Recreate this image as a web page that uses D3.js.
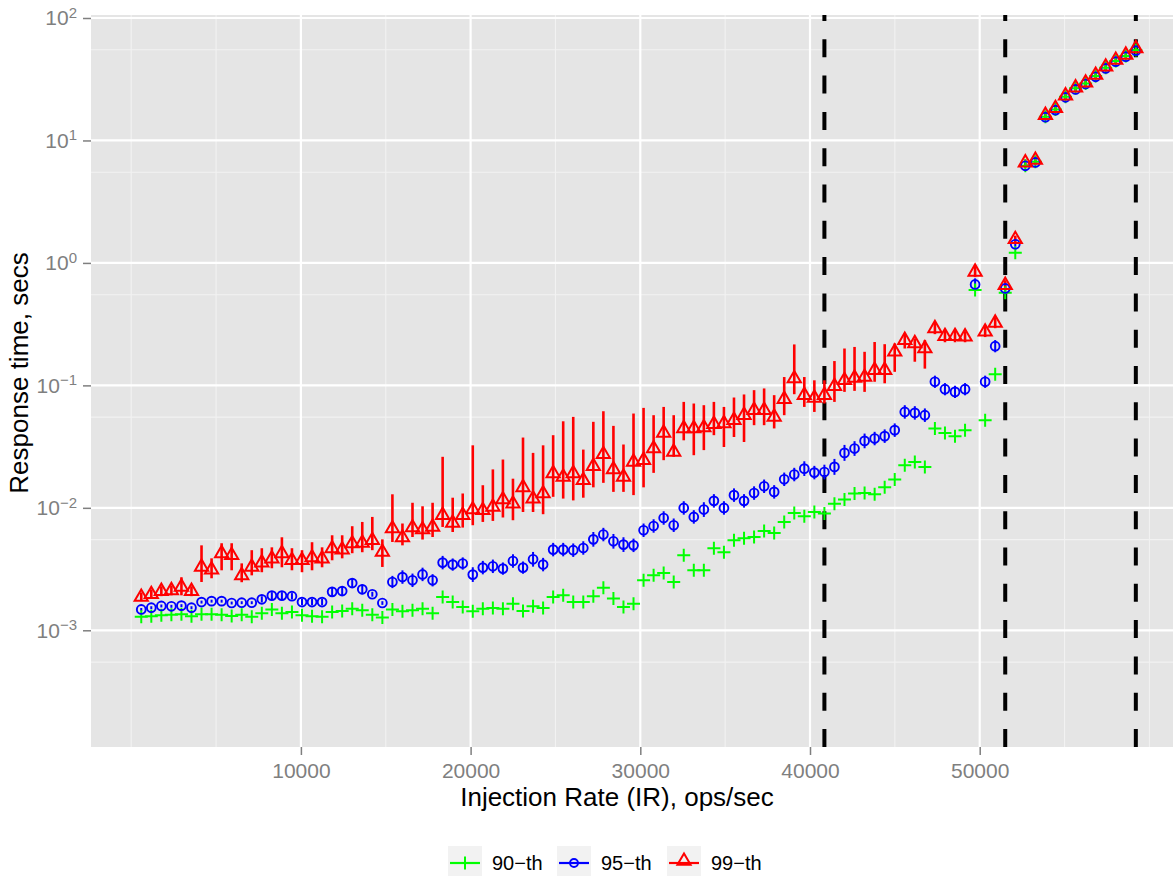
<!DOCTYPE html>
<html>
<head>
<meta charset="utf-8">
<script src="https://cdn.jsdelivr.net/npm/d3@7"></script>
<style>
  body { margin: 0; background: #fff; }
  svg { display: block; font-family: "Liberation Sans", Arial, sans-serif; }
</style>
</head>
<body>
<div id="chart-area"></div>
<script>
// injection rates (ops/sec)
const rates = [592, 1184, 1776, 2368, 2960, 3552, 4144, 4736, 5328, 5920,
  6512, 7104, 7696, 8288, 8880, 9472, 10064, 10656, 11248, 11840,
  12432, 13024, 13616, 14208, 14800, 15392, 15984, 16576, 17168, 17760,
  18352, 18944, 19536, 20128, 20720, 21312, 21904, 22496, 23088, 23680,
  24272, 24864, 25456, 26048, 26640, 27232, 27824, 28416, 29008, 29600,
  30192, 30784, 31376, 31968, 32560, 33152, 33744, 34336, 34928, 35520,
  36112, 36704, 37296, 37888, 38480, 39072, 39664, 40256, 40848, 41440,
  42032, 42624, 43216, 43808, 44400, 44992, 45584, 46176, 46768, 47360,
  47952, 48544, 49136, 49728, 50320, 50912, 51504, 52096, 52688, 53280,
  53872, 54464, 55056, 55648, 56240, 56832, 57424, 58016, 58608, 59200];

// response time percentiles (secs)
const p90 = [0.00129, 0.00130, 0.00133, 0.00134, 0.00135, 0.00130, 0.00135, 0.00135, 0.00134, 0.00131,
  0.00134, 0.00129, 0.00138, 0.00148, 0.00138, 0.00141, 0.00133, 0.00130, 0.00129, 0.00141,
  0.00144, 0.00150, 0.00146, 0.00134, 0.00127, 0.00148, 0.00143, 0.00146, 0.00150, 0.00138,
  0.00187, 0.00170, 0.00155, 0.00143, 0.00150, 0.00152, 0.00150, 0.00165, 0.00144, 0.00157,
  0.00152, 0.00187, 0.00193, 0.00170, 0.00170, 0.00190, 0.00223, 0.00182, 0.00155, 0.00165,
  0.00256, 0.00281, 0.00294, 0.00248, 0.00410, 0.00309, 0.00309, 0.00468, 0.00434, 0.00543,
  0.00565, 0.00578, 0.00647, 0.00624, 0.00767, 0.00908, 0.00853, 0.00925, 0.00897, 0.0108,
  0.0117, 0.0131, 0.0132, 0.0129, 0.0147, 0.0170, 0.0223, 0.0237, 0.0216, 0.0445,
  0.0409, 0.0385, 0.0431, 0.600, 0.0520, 0.123, 0.570, 1.21, 6.21, 6.70,
  15.6, 17.9, 22.8, 26.7, 29.2, 33.6, 39.3, 44.6, 48.9, 54.8];

const p95 = [0.00148, 0.00153, 0.00158, 0.00157, 0.00159, 0.00153, 0.00170, 0.00173, 0.00173, 0.00167,
  0.00168, 0.00168, 0.00179, 0.00192, 0.00192, 0.00190, 0.00170, 0.00170, 0.00170, 0.00206,
  0.00209, 0.00243, 0.00216, 0.00197, 0.00167, 0.00248, 0.00272, 0.00256, 0.00286, 0.00256,
  0.00357, 0.00344, 0.00351, 0.00285, 0.00325, 0.00333, 0.00319, 0.00368, 0.00325, 0.00380,
  0.00344, 0.00456, 0.00456, 0.00451, 0.00470, 0.00553, 0.00605, 0.00533, 0.00501, 0.00494,
  0.00656, 0.00711, 0.00826, 0.00721, 0.00998, 0.00843, 0.00968, 0.0114, 0.00998, 0.0127,
  0.0114, 0.0132, 0.0150, 0.0135, 0.0171, 0.0187, 0.0209, 0.0194, 0.0196, 0.0216,
  0.0281, 0.0305, 0.0352, 0.0368, 0.0385, 0.0431, 0.0607, 0.0596, 0.0571, 0.107,
  0.0931, 0.0885, 0.0931, 0.667, 0.107, 0.209, 0.619, 1.42, 6.21, 6.62,
  15.5, 17.7, 22.5, 26.1, 28.9, 33.1, 38.8, 44.0, 48.3, 54.1];

// 95-th spread (half width, in decades)
const p95spread = [0.012, 0.012, 0.012, 0.012, 0.012, 0.012, 0.012, 0.012, 0.012, 0.012,
  0.012, 0.012, 0.025, 0.028, 0.028, 0.025, 0.025, 0.025, 0.025, 0.04,
  0.04, 0.04, 0.04, 0.02, 0.015, 0.05, 0.055, 0.055, 0.055, 0.05,
  0.055, 0.05, 0.05, 0.06, 0.055, 0.055, 0.05, 0.055, 0.05, 0.06,
  0.055, 0.055, 0.055, 0.055, 0.055, 0.06, 0.055, 0.06, 0.06, 0.055,
  0.055, 0.055, 0.055, 0.055, 0.055, 0.055, 0.06, 0.055, 0.055, 0.055,
  0.055, 0.055, 0.055, 0.055, 0.055, 0.055, 0.06, 0.055, 0.06, 0.065,
  0.065, 0.06, 0.06, 0.055, 0.055, 0.055, 0.055, 0.055, 0.055, 0.05,
  0.05, 0.05, 0.05, 0.05, 0.05, 0.05, 0.05, 0.02, 0.02, 0.02,
  0.02, 0.02, 0.02, 0.02, 0.02, 0.02, 0.02, 0.02, 0.02, 0.02];

const p99 = [0.00187, 0.00197, 0.00209, 0.00212, 0.00226, 0.00209, 0.00329, 0.00313, 0.00424, 0.00410,
  0.00281, 0.00329, 0.00357, 0.00385, 0.00424, 0.00373, 0.00373, 0.00393, 0.00385, 0.00465,
  0.00456, 0.00511, 0.00517, 0.00543, 0.00436, 0.00678, 0.00572, 0.00690, 0.00665, 0.00698,
  0.00871, 0.00753, 0.00871, 0.00968, 0.00955, 0.01017, 0.0117, 0.0108, 0.0147, 0.0119,
  0.0131, 0.0191, 0.0179, 0.0191, 0.0168, 0.0219, 0.0274, 0.0206, 0.0179, 0.0237,
  0.0245, 0.0305, 0.0409, 0.0286, 0.0445, 0.0445, 0.0453, 0.0482, 0.0489, 0.0520,
  0.0571, 0.0627, 0.0627, 0.0553, 0.0771, 0.1138, 0.0832, 0.0791, 0.0832, 0.0985,
  0.110, 0.115, 0.117, 0.133, 0.133, 0.188, 0.234, 0.220, 0.200, 0.292,
  0.252, 0.252, 0.250, 0.845, 0.274, 0.324, 0.659, 1.56, 6.58, 6.92,
  16.1, 18.3, 23.2, 27.0, 29.6, 34.2, 40.0, 45.4, 49.9, 56.5];

const p99lo = [0.00173, 0.00182, 0.00190, 0.00193, 0.00193, 0.00190, 0.00248, 0.00266, 0.00309, 0.00309,
  0.00247, 0.00281, 0.00298, 0.00321, 0.00327, 0.00309, 0.00298, 0.00309, 0.00327, 0.00373,
  0.00387, 0.00426, 0.00434, 0.00451, 0.00329, 0.00526, 0.00494, 0.00578, 0.00551, 0.00578,
  0.00698, 0.00635, 0.00690, 0.00721, 0.00767, 0.00782, 0.00834, 0.00792, 0.00925, 0.00925,
  0.00887, 0.0123, 0.0119, 0.0115, 0.0121, 0.0147, 0.0160, 0.0135, 0.0135, 0.0127,
  0.0147, 0.0193, 0.0245, 0.0261, 0.0356, 0.0269, 0.0296, 0.0392, 0.0314, 0.0379,
  0.0345, 0.0473, 0.0473, 0.0445, 0.0571, 0.0847, 0.0667, 0.0607, 0.0711, 0.0733,
  0.0885, 0.0902, 0.0885, 0.107, 0.104, 0.129, 0.200, 0.156, 0.137, 0.262,
  0.225, 0.225, 0.225, 0.766, 0.248, 0.293, 0.600, 1.45, 6.10, 6.45,
  15.0, 17.0, 21.6, 25.1, 27.5, 31.8, 37.2, 42.2, 46.4, 52.5];

const p99hi = [0.00204, 0.00216, 0.00229, 0.00233, 0.00271, 0.00229, 0.00494, 0.00387, 0.00514, 0.00514,
  0.00352, 0.00451, 0.00468, 0.00476, 0.00575, 0.00468, 0.00451, 0.00524, 0.00476, 0.00597,
  0.00597, 0.00708, 0.00767, 0.00843, 0.00553, 0.0129, 0.00745, 0.0110, 0.0103, 0.0110,
  0.0261, 0.0121, 0.0131, 0.0324, 0.0153, 0.0206, 0.0248, 0.0173, 0.0375, 0.0281,
  0.0324, 0.0392, 0.0509, 0.0553, 0.0299, 0.0504, 0.0615, 0.0467, 0.0329, 0.0589,
  0.0655, 0.0571, 0.0667, 0.0571, 0.0733, 0.0711, 0.0689, 0.0733, 0.0667, 0.0796,
  0.0843, 0.0914, 0.0944, 0.0832, 0.117, 0.216, 0.117, 0.110, 0.110, 0.158,
  0.200, 0.206, 0.188, 0.226, 0.217, 0.220, 0.265, 0.242, 0.234, 0.328,
  0.282, 0.282, 0.277, 0.942, 0.305, 0.361, 0.723, 1.67, 7.0, 7.4,
  17.2, 19.6, 24.8, 28.9, 31.7, 36.6, 42.8, 48.6, 53.4, 60.5];

const xTicks = [10000, 20000, 30000, 40000, 50000];
const xMinor = [0, 5000, 15000, 25000, 35000, 45000, 55000, 60000];
const yTicks = [1e-3, 1e-2, 1e-1, 1, 10, 100];
const yMinor = [5.5e-4, 5.5e-3, 5.5e-2, 0.55, 5.5, 55];
const vlines = [40848, 51504, 59200];
const seriesNames = ["90\u2212th", "95\u2212th", "99\u2212th"];
const seriesColors = ["#00FF00", "#0000FF", "#FF0000"];

const width = 1175, height = 876;
const panel = {left: 91, right: 1173, top: 15, bottom: 747};

let svg = d3.select("#chart-area")
  .append("svg")
  .attr("width", width)
  .attr("height", height);

//x scale
let x = d3.scaleLinear()
  .domain([-2369, 61390])
  .range([panel.left, panel.right]);

//y scale (log)
let y = d3.scaleLog()
  .domain([Math.pow(10, -3.953), Math.pow(10, 2.0245)])
  .range([panel.bottom, panel.top]);

svg.append("rect")
  .attr("x", panel.left).attr("y", panel.top)
  .attr("width", panel.right - panel.left)
  .attr("height", panel.bottom - panel.top)
  .attr("fill", "#E5E5E5");

let grid = svg.append("g");
grid.selectAll(".ymin").data(yMinor).enter().append("line")
  .attr("x1", panel.left).attr("x2", panel.right)
  .attr("y1", d => y(d)).attr("y2", d => y(d))
  .attr("stroke", "#F2F2F2").attr("stroke-width", 1.1);
grid.selectAll(".xmin").data(xMinor).enter().append("line")
  .attr("x1", d => x(d)).attr("x2", d => x(d))
  .attr("y1", panel.top).attr("y2", panel.bottom)
  .attr("stroke", "#F2F2F2").attr("stroke-width", 1.1);
grid.selectAll(".ymaj").data(yTicks).enter().append("line")
  .attr("x1", panel.left).attr("x2", panel.right)
  .attr("y1", d => y(d)).attr("y2", d => y(d))
  .attr("stroke", "#FFFFFF").attr("stroke-width", 2.2);
grid.selectAll(".xmaj").data(xTicks).enter().append("line")
  .attr("x1", d => x(d)).attr("x2", d => x(d))
  .attr("y1", panel.top).attr("y2", panel.bottom)
  .attr("stroke", "#FFFFFF").attr("stroke-width", 2.2);

// dashed vertical markers
svg.append("g").selectAll("line").data(vlines).enter().append("line")
  .attr("x1", d => x(d)).attr("x2", d => x(d))
  .attr("y1", panel.bottom).attr("y2", panel.top)
  .attr("stroke", "#000").attr("stroke-width", 4)
  .attr("stroke-dasharray", "18,18.3");

const idx = d3.range(rates.length);

// error bars
let bars = svg.append("g");
bars.selectAll(".e95").data(idx).enter().append("line")
  .attr("x1", i => x(rates[i])).attr("x2", i => x(rates[i]))
  .attr("y1", i => y(p95[i] / Math.pow(10, p95spread[i])))
  .attr("y2", i => y(p95[i] * Math.pow(10, p95spread[i])))
  .attr("stroke", seriesColors[1]).attr("stroke-width", 2);
bars.selectAll(".e99").data(idx).enter().append("line")
  .attr("x1", i => x(rates[i])).attr("x2", i => x(rates[i]))
  .attr("y1", i => y(p99lo[i])).attr("y2", i => y(p99hi[i]))
  .attr("stroke", seriesColors[2]).attr("stroke-width", 2.6);

// point shapes
const plusPath = "M-6.5,0H6.5M0,-6.5V6.5";
const triPath = "M0,-7.6L6.6,3.8L-6.6,3.8Z";

let pts = svg.append("g").attr("fill", "none");
pts.selectAll(".s90").data(idx).enter().append("path")
  .attr("d", plusPath)
  .attr("transform", i => `translate(${x(rates[i])},${y(p90[i])})`)
  .attr("stroke", seriesColors[0]).attr("stroke-width", 2);
pts.selectAll(".s95").data(idx).enter().append("circle")
  .attr("cx", i => x(rates[i])).attr("cy", i => y(p95[i]))
  .attr("r", 4.4)
  .attr("stroke", seriesColors[1]).attr("stroke-width", 1.9);
pts.selectAll(".s99").data(idx).enter().append("path")
  .attr("d", triPath)
  .attr("transform", i => `translate(${x(rates[i])},${y(p99[i])})`)
  .attr("stroke", seriesColors[2]).attr("stroke-width", 2);

// x axis
let xAxis = d3.axisBottom(x).tickValues(xTicks).tickSize(8).tickPadding(8)
  .tickFormat(d3.format("d"));
let gx = svg.append("g")
  .attr("transform", `translate(0,${panel.bottom})`)
  .call(xAxis);
gx.select(".domain").remove();
gx.selectAll("line").attr("stroke", "#7F7F7F").attr("stroke-width", 1.5);
gx.selectAll("text").attr("fill", "#7F7F7F")
  .attr("font-size", 21).attr("font-family", "Liberation Sans, Arial, sans-serif");

// y axis with 10^k labels
let yAxis = d3.axisLeft(y).tickValues(yTicks).tickSize(8).tickPadding(6)
  .tickFormat(() => "");
let gy = svg.append("g")
  .attr("transform", `translate(${panel.left},0)`)
  .call(yAxis);
gy.select(".domain").remove();
gy.selectAll("line").attr("stroke", "#7F7F7F").attr("stroke-width", 1.5);
gy.selectAll("text")
  .attr("fill", "#7F7F7F")
  .attr("font-size", 21).attr("font-family", "Liberation Sans, Arial, sans-serif")
  .each(function(d) {
    let t = d3.select(this);
    let e = Math.round(Math.log10(d));
    t.append("tspan").text("10");
    t.append("tspan").attr("dy", "-0.5em").attr("font-size", 15)
      .text(String(e).replace("-", "\u2212"));
  });

//x label
svg.append("text")
  .attr("x", 617)
  .attr("y", 806)
  .attr("font-size", 26)
  .attr("text-anchor", "middle")
  .text("Injection Rate (IR), ops/sec");

//y label
svg.append("text")
  .attr("transform", "translate(28,373) rotate(-90)")
  .attr("font-size", 26)
  .attr("text-anchor", "middle")
  .text("Response time, secs");

// legend
const legendX = [448, 557, 667];
let legend = svg.append("g");
seriesNames.forEach((name, k) => {
  let g = legend.append("g").attr("transform", `translate(${legendX[k]},846)`);
  g.append("rect").attr("width", 34).attr("height", 34).attr("fill", "#F2F2F2");
  g.append("line").attr("x1", 2).attr("x2", 32).attr("y1", 17).attr("y2", 17)
    .attr("stroke", seriesColors[k]).attr("stroke-width", 2.2);
  if (k === 0) {
    g.append("path").attr("d", plusPath).attr("transform", "translate(17,17)")
      .attr("fill", "none").attr("stroke", seriesColors[k]).attr("stroke-width", 2);
  } else if (k === 1) {
    g.append("circle").attr("cx", 17).attr("cy", 17).attr("r", 4)
      .attr("fill", "none").attr("stroke", seriesColors[k]).attr("stroke-width", 1.9);
  } else {
    g.append("path").attr("d", triPath).attr("transform", "translate(17,15)")
      .attr("fill", "none").attr("stroke", seriesColors[k]).attr("stroke-width", 2);
  }
  g.append("text").attr("x", 44).attr("y", 24)
    .attr("font-size", 20).attr("fill", "#000")
    .text(name);
});
</script>
</body>
</html>
